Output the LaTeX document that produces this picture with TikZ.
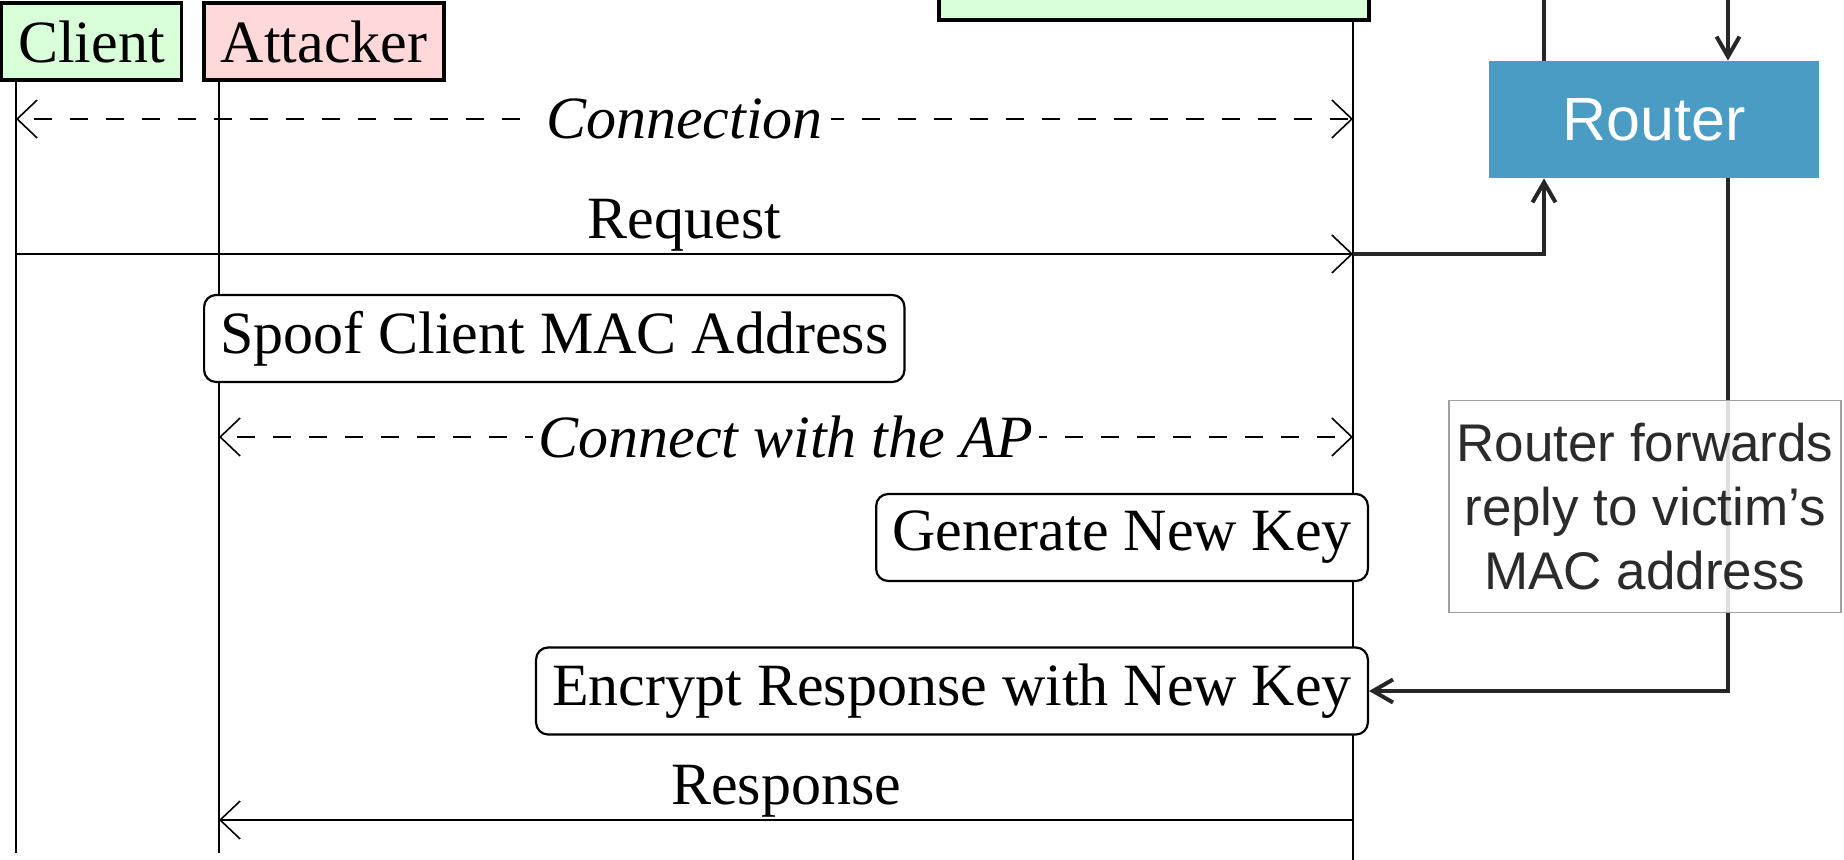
\documentclass[tikz,border=0pt]{standalone}
\usepackage{fontspec}
\setmainfont{Liberation Serif}
\newfontfamily\arialfont{Liberation Sans}
\usetikzlibrary{arrows.meta}

\definecolor{actorgreen}{HTML}{D9FFD9}
\definecolor{actorred}{HTML}{FFD9D9}
\definecolor{routerblue}{HTML}{4A9CC4}
\definecolor{wire}{HTML}{262626}
\definecolor{notegray}{HTML}{A0A0A0}
\definecolor{notetext}{HTML}{2B2B2B}

\tikzset{
  bigserif/.style={font=\fontsize{30}{36}\selectfont},
  actor/.style={draw=black, line width=1.8pt, inner sep=0pt, bigserif},
  lifeline/.style={line width=1.2pt},
  barb/.tip={Straight Barb[length=10pt,width=19pt,line width=0.8pt]},
  msg/.style={line width=1.2pt, -barb},
  dmsg/.style={line width=1.3pt, barb-barb, dash pattern=on 9pt off 9pt, dash phase=-8pt},
  mlabel/.style={bigserif, anchor=base, yshift=7.5pt, inner sep=0pt},
  dlabel/.style={bigserif, font=\fontsize{30}{36}\selectfont\itshape, fill=white, inner xsep=4pt, inner ysep=1pt},
  act/.style={draw, fill=white, rounded corners=6pt, line width=1.1pt,
              minimum height=43.5pt, inner xsep=8pt, bigserif},
  wireline/.style={draw=wire, line width=2pt},
  wirearrow/.style={wireline, -{Straight Barb[length=10pt,width=11.5pt,line width=2pt]}},
}

\begin{document}
\begin{tikzpicture}[x=0.5pt, y=-0.5pt]
  \useasboundingbox (0,0) rectangle (1844,860);
  \clip (0,0) rectangle (1844,860);

  % participants
  \node[actor, fill=actorgreen, minimum width=90pt, minimum height=38.5pt] (client) at (91.5,41.5) {Client};
  \node[actor, fill=actorred, minimum width=120pt, minimum height=38.5pt] (attacker) at (324,41.5) {Attacker};
  \node[draw=black, line width=2.2pt, fill=actorgreen, minimum width=215pt, minimum height=40pt, inner sep=0pt] (ap) at (1154,-20) {};

  % lifelines
  \coordinate (cl) at (16,80);
  \coordinate (al) at (219,80);
  \coordinate (pl) at (1353,20);
  \draw[lifeline] (cl) -- (cl |- 0,853);
  \draw[lifeline] (al) -- (al |- 0,853);
  \draw[lifeline] (pl) -- (pl |- 0,870);

  % router side
  \node[fill=routerblue, minimum width=165pt, minimum height=58.5pt, inner sep=0pt,
        text=white, font=\arialfont\fontsize{30.5}{36}\selectfont] (router) at (1654,119.5) {Router};
  \coordinate (rinL) at (1544,-10);
  \coordinate (rinR) at (1728,-10);
  \draw[wireline] (rinL) -- (rinL |- router.north);
  \draw[wirearrow] (rinR) -- (rinR |- router.north);

  % messages
  \draw[dmsg] (cl |- 0,119) -- node[dlabel] {Connection} (pl |- 0,119);
  \draw[msg] (cl |- 0,254) -- node[mlabel] {Request} (pl |- 0,254);
  \draw[wirearrow] (pl |- 0,254) -| (rinL |- router.south);

  \node[act, anchor=west] (spoof) at (203,338.5) {Spoof Client MAC Address};
  \draw[dmsg] (al |- 0,437) -- node[dlabel, inner xsep=3pt] {Connect with the AP} (pl |- 0,437);
  \node[act, anchor=east] (genkey) at (1369,537.5) {Generate New Key};
  \node[act, anchor=east] (enc) at (1369,691) {Encrypt Response with New Key};

  \draw[wirearrow] (rinR |- router.south) |- (enc.east);

  \draw[msg] (pl |- 0,820) -- node[mlabel] {Response} (al |- 0,820);

  % note about the forwarded reply
  \node[draw=notegray, line width=0.7pt, fill=white, fill opacity=0.85, text opacity=1,
        minimum width=196pt, minimum height=106pt, inner sep=0pt, align=center,
        text=notetext, font=\arialfont\fontsize{26.5}{32}\selectfont] (note) at (1645,506.5)
        {Router forwards\\reply to victim’s\\MAC address};
\end{tikzpicture}
\end{document}
